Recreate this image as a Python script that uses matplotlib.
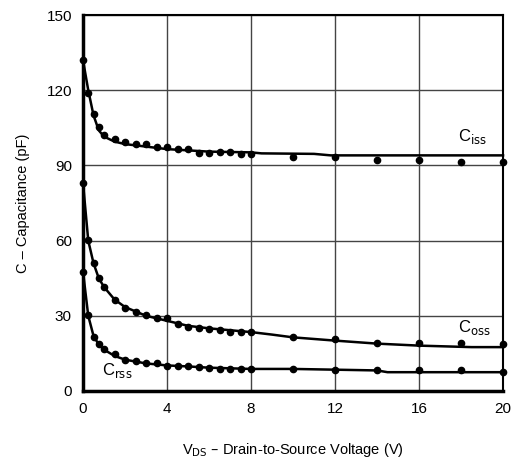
import matplotlib.pyplot as plt

plt.rcParams['font.family'] = ['Liberation Sans', 'DejaVu Sans']
plt.rcParams['font.size'] = 10

# measured points
vds = [0, 0.25, 0.5, 0.75, 1, 1.5, 2, 2.5, 3, 3.5, 4, 4.5, 5, 5.5, 6,
       6.5, 7, 7.5, 8, 10, 12, 14, 16, 18, 20]
ciss = [132, 119, 110.5, 105.2, 102.1, 100.4, 99.2, 98.4, 98.4, 97.5, 97.5,
        96.4, 96.4, 95.1, 95.1, 95.2, 95.2, 94.5, 94.5, 93.2, 93.2, 92.1,
        92.1, 91.5, 91.5]
coss = [83, 60.2, 50.9, 45.2, 41.6, 36.3, 33.2, 31.4, 30.2, 29.0, 29.0,
        26.7, 25.6, 25.2, 24.8, 24.3, 23.5, 23.5, 23.5, 21.4, 20.6, 19.3,
        19.3, 19.0, 18.7]
crss = [47.6, 30.3, 21.7, 18.7, 16.8, 14.8, 12.4, 12.1, 11.3, 11.3, 10.1,
        10.1, 10.1, 9.7, 9.0, 8.8, 8.8, 8.8, 8.8, 8.8, 8.4, 8.4, 8.4, 8.4, 7.7]

# fitted curves
ciss_x = [0, 0.25, 0.5, 0.75, 1, 1.5, 2, 3, 4, 5, 6, 8, 8.5, 11, 11.8, 20]
ciss_fit = [132, 120, 110, 104, 101.5, 99.5, 98.5, 97.5, 96.5, 96, 95.5,
            95.2, 94.8, 94.6, 94, 94]
coss_x = [0, 0.25, 0.5, 0.75, 1, 1.5, 2, 3, 4, 5, 6, 8, 9, 10, 12, 14, 16,
          18.5, 20]
coss_fit = [83, 60, 51, 45, 41.5, 36.5, 33.5, 30, 28, 26, 25, 23.5, 22.5,
            21.4, 20.1, 18.9, 18.1, 17.5, 17.5]
crss_x = [0, 0.25, 0.5, 0.75, 1, 1.5, 2, 3, 4, 5, 6, 8, 10, 12, 14, 14.5, 20]
crss_fit = [47.6, 30, 22, 18.5, 16.5, 14, 12.5, 11, 10.2, 9.8, 9.3, 8.8,
            8.8, 8.5, 8.2, 7.5, 7.5]

fig = plt.figure(figsize=(5.24, 4.62), dpi=100)
ax = fig.add_axes([0.1584, 0.1537, 0.8016, 0.8138])

for x, y in [(ciss_x, ciss_fit), (coss_x, coss_fit), (crss_x, crss_fit)]:
    ax.plot(x, y, color='black', lw=1.8, clip_on=False, zorder=3)
for y in [ciss, coss, crss]:
    ax.plot(vds, y, 'o', color='black', ms=4.5, clip_on=False, zorder=4)

ax.set_xlim(0, 20)
ax.set_ylim(0, 150)
ax.set_xticks([0, 4, 8, 12, 16, 20])
ax.set_yticks([0, 30, 60, 90, 120, 150])
ax.grid(True, color='#444444', lw=1)
ax.tick_params(length=0, pad=8, labelsize=11)
for s in ax.spines.values():
    s.set_linewidth(1.5)
ax.spines['left'].set_linewidth(2.5)
ax.spines['bottom'].set_linewidth(2.5)

ax.text(17.85, 101.5, r'C$_{\rm iss}$', fontsize=12, va='center')
ax.text(17.85, 25.5, r'C$_{\rm oss}$', fontsize=12, va='center')
ax.text(0.9, 8.0, r'C$_{\rm rss}$', fontsize=12, va='center')

ax.set_ylabel('C – Capacitance (pF)', fontsize=10.5, labelpad=12)
ax.set_xlabel(r'V$_{\rm DS}$ – Drain-to-Source Voltage (V)', fontsize=10.5,
              labelpad=18)

fig.savefig('out.png', dpi=100)
